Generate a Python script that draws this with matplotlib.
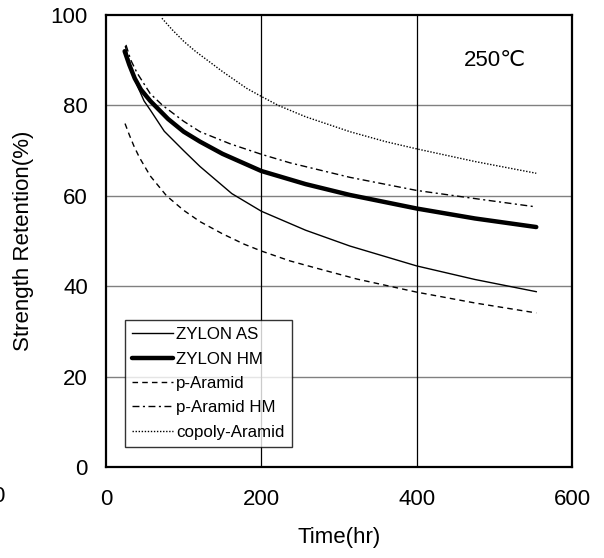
import numpy as np
import matplotlib
matplotlib.use("Agg")
import matplotlib.pyplot as plt

plt.rcParams['font.family'] = ['Liberation Sans', 'DejaVu Sans']

# values (Time [hr] -> Strength Retention [%])
as_t = [25, 32, 40, 49, 57, 75, 100, 121, 162, 200, 257, 314, 400, 475, 554]
as_r = [93, 88.5, 84.5, 81, 79, 74.3, 70, 66.5, 60.5, 56.6, 52.4, 48.9, 44.5, 41.5, 38.8]

hm_t = [24, 30, 37, 45, 57, 80, 100, 121, 150, 200, 257, 314, 400, 475, 554]
hm_r = [92, 89, 86, 83.5, 81, 77, 74.2, 72, 69.3, 65.5, 62.6, 60.2, 57.2, 55, 53.1]

pa_t = [24.5, 30, 36, 43, 57, 78, 100, 121, 150, 178, 200, 237, 271, 323, 400, 475, 554]
pa_r = [76, 73.5, 71, 68.5, 64.4, 60, 56.8, 54.3, 51.6, 49.3, 47.8, 45.6, 44, 41.6, 38.7, 36.3, 34.1]

pahm_t = [25.7, 32, 40, 57, 73, 100, 121, 160, 200, 237, 314, 400, 475, 552]
pahm_r = [93.4, 90, 87.2, 82.6, 80, 76.5, 74.2, 71.5, 69.2, 67.3, 64.1, 61.2, 59.4, 57.6]

co_t = [72, 85, 100, 115, 129, 150, 181, 200, 222, 257, 314, 360, 400, 475, 554]
co_r = [99.3, 96.8, 94.2, 92, 90.2, 87.5, 83.8, 82, 80, 77.5, 74.2, 72, 70.4, 67.6, 65]

fig = plt.figure(figsize=(6.04, 5.58), dpi=100)
ax = fig.add_axes([0.1755, 0.163, 0.7715, 0.81])

ax.plot(as_t, as_r, color='black', lw=1.0, label='ZYLON AS')
ax.plot(hm_t, hm_r, color='black', lw=3.2, label='ZYLON HM', solid_capstyle='round')
ax.plot(pa_t, pa_r, color='black', lw=1.0, linestyle=(0, (4, 3)), label='p-Aramid')
ax.plot(pahm_t, pahm_r, color='black', lw=1.0, linestyle=(0, (5, 2.5, 1.5, 2.5)), label='p-Aramid HM')
ax.plot(co_t, co_r, color='black', lw=1.0, linestyle=(0, (1, 1.2)), label='copoly-Aramid')

ax.set_xlim(0, 600)
ax.set_ylim(0, 100)
ax.set_xticks([0, 200, 400, 600])
ax.set_yticks([0, 20, 40, 60, 80, 100])
ax.tick_params(length=0, labelsize=16)
ax.tick_params(axis='x', pad=16)
ax.tick_params(axis='y', pad=13)

for v in [20, 40, 60, 80]:
    ax.axhline(v, color='#808080', lw=1.0, zorder=0)
for v in [200, 400]:
    ax.axvline(v, color='black', lw=0.9, zorder=0)

for s in ax.spines.values():
    s.set_linewidth(1.6)

ax.set_xlabel('Time(hr)', fontsize=16, labelpad=12)
ax.set_ylabel('Strength Retention(%)', fontsize=16, labelpad=12)

ax.text(501, 90, '250℃', fontsize=16, ha='center', va='center')

leg = ax.legend(loc='lower left', bbox_to_anchor=(0.04, 0.044), borderaxespad=0,
                fontsize=12.2, frameon=True, fancybox=False, handlelength=2.4,
                handletextpad=0.2, labelspacing=0.55, borderpad=0.45)
leg.get_frame().set_edgecolor('black')
leg.get_frame().set_linewidth(1.0)

# clipped stray label at the far left edge (cut off in the original too)
fig.text(-2 / 604, 1 - 497 / 558, '0', fontsize=16, ha='center', va='center')

fig.savefig('out.png', dpi=100)
